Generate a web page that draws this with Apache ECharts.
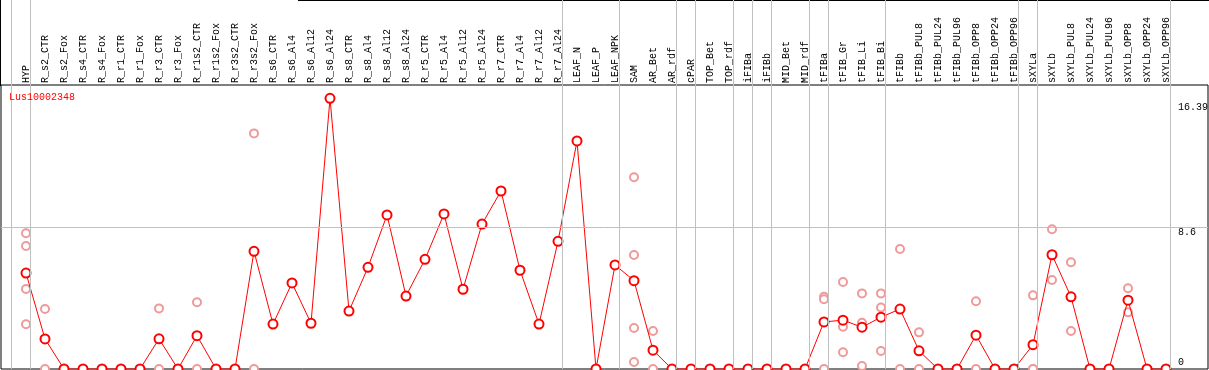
<!DOCTYPE html>
<html>
<head>
<meta charset="utf-8">
<script src="https://cdn.jsdelivr.net/npm/echarts@6/dist/echarts.min.js"></script>
<style>html,body{margin:0;padding:0;background:#fff}#c{width:1209px;height:370px}</style>
</head>
<body>
<div id="c"></div>
<script>
const seriesName = 'Lus10002348';
const categories = ['HYP','R_s2_CTR','R_s2_Fox','R_s4_CTR','R_s4_Fox','R_r1_CTR','R_r1_Fox','R_r3_CTR','R_r3_Fox','R_r1s2_CTR','R_r1s2_Fox','R_r3s2_CTR','R_r3s2_Fox','R_s6_CTR','R_s6_Al4','R_s6_Al12','R_s6_Al24','R_s8_CTR','R_s8_Al4','R_s8_Al12','R_s8_Al24','R_r5_CTR','R_r5_Al4','R_r5_Al12','R_r5_Al24','R_r7_CTR','R_r7_Al4','R_r7_Al12','R_r7_Al24','LEAF_N','LEAF_P','LEAF_NPK','SAM','AR_Bet','AR_rdf','cPAR','TOP_Bet','TOP_rdf','iFIBa','iFIBb','MID_Bet','MID_rdf','tFIBa','tFIB_Gr','tFIB_Li','tFIB_Bi','tFIBb','tFIBb_PUL8','tFIBb_PUL24','tFIBb_PUL96','tFIBb_OPP8','tFIBb_OPP24','tFIBb_OPP96','sXYLa','sXYLb','sXYLb_PUL8','sXYLb_PUL24','sXYLb_PUL96','sXYLb_OPP8','sXYLb_OPP24','sXYLb_OPP96'];
const meanValues = [5.81,1.82,0,0,0,0,0,1.83,0,2.02,0,0,7.13,2.72,5.21,2.77,16.39,3.51,6.16,9.33,4.42,6.64,9.39,4.83,8.78,10.78,5.98,2.72,7.73,13.81,0,6.30,5.35,1.14,0,0,0,0,0,0,0,0,2.85,2.96,2.53,3.14,3.63,1.10,0,0,2.05,0,0,1.47,6.92,4.37,0,0,4.17,0,0];
const replicateCats = ['HYP','R_s2_CTR','R_r3_CTR','R_r1s2_CTR','R_r3s2_Fox','SAM','AR_Bet','tFIBa','tFIB_Gr','tFIB_Li','tFIB_Bi','tFIBb','tFIBb_PUL8','tFIBb_OPP8','sXYLa','sXYLb','sXYLb_PUL8','sXYLb_OPP8'];
const replicateVals = [[8.22,7.45,4.85,2.71],[3.63,0],[3.67,0],[4.04,0],[14.27,0],[11.61,6.90,2.48,0.42],[2.30,0],[4.38,4.22,0],[5.27,2.56,1.01],[4.58,2.80,0.18],[4.58,3.73,1.09],[7.27,0],[2.22,0],[4.10,0],[4.46,0,0],[8.46,5.39],[6.46,2.30],[4.89,3.43]];
const groupEnds = [-1,0,28,31,34,35,37,38,39,41,42,45,52,53,60];
const yTickLabels = [0, 8.6, 16.39];
const yMax = 17.2;

const FONT = 'Liberation Mono, DejaVu Sans Mono, monospace';
const mainData = meanValues.map((v,i)=>[i,v]);
const repData = [];
replicateCats.forEach((c,k)=>{ const i = categories.indexOf(c); replicateVals[k].forEach(v=>repData.push([i,v])); });
const sepLines = groupEnds.map(g=>({xAxis: g + 0.23}));

const chart = echarts.init(document.getElementById('c'), null, {renderer:'canvas'});
chart.setOption({
  animation:false,
  backgroundColor:'#fff',
  title:{text:seriesName,left:9,top:92,padding:0,textStyle:{color:'#ff0000',fontSize:10,fontWeight:'normal',fontFamily:FONT}},
  grid:[
    {left:1,right:1,top:85,bottom:1,show:true,borderColor:'#000',borderWidth:1,backgroundColor:'transparent',containLabel:false,outerBoundsMode:'none'},
    {left:7,right:24,top:85,bottom:1,containLabel:false,outerBoundsMode:'none'},
    {left:7,right:24,top:0,bottom:1,containLabel:false,outerBoundsMode:'none'}
  ],
  xAxis:[
    {gridIndex:0,type:'value',min:0,max:1,show:false},
    {gridIndex:1,type:'value',position:'top',min:-1,max:61,interval:1,
     axisLine:{show:false},axisTick:{show:false},splitLine:{show:false},
     axisLabel:{show:true,rotate:90,margin:2,fontSize:10,fontFamily:FONT,color:'#000',
       formatter:v=>categories[v]||''}},
    {gridIndex:2,type:'value',min:-1,max:61,show:false}
  ],
  yAxis:[
    {gridIndex:0,type:'value',min:0,max:yMax,show:false},
    {gridIndex:1,type:'value',min:0,max:yMax,position:'right',offset:-7,
     axisLine:{show:false},axisTick:{show:false},splitLine:{show:false},
     axisLabel:{show:true,customValues:yTickLabels,margin:0,align:'left',verticalAlign:'middle',fontSize:10,fontFamily:FONT,color:'#000',
       formatter:v=>{ if(v===0) return '{b|0}'; if(v===16.39) return '{t|16.39}'; return '{m|'+v+'}'; },
       rich:{
         t:{fontSize:10,fontFamily:FONT,lineHeight:12,padding:[18,0,0,0],color:'#000'},
         m:{fontSize:10,fontFamily:FONT,lineHeight:12,padding:[10,0,0,0],color:'#000'},
         b:{fontSize:10,fontFamily:FONT,lineHeight:12,padding:[0,0,13,0],color:'#000'}
       }}},
    {gridIndex:2,type:'value',min:0,max:1,show:false}
  ],
  graphic:[
    {type:'line',shape:{x1:0.5,y1:0,x2:0.5,y2:86},style:{stroke:'#000',lineWidth:1},silent:true},
    {type:'line',shape:{x1:298,y1:0.5,x2:1209,y2:0.5},style:{stroke:'#000',lineWidth:1},silent:true}
  ],
  series:[
    {type:'scatter',xAxisIndex:0,yAxisIndex:0,data:[],silent:true,z:1,
     markLine:{silent:true,symbol:'none',label:{show:false},lineStyle:{color:'#c0c0c0',width:1,type:'solid'},data:[{yAxis:8.6}],animation:false}},
    {type:'scatter',xAxisIndex:2,yAxisIndex:2,data:[],silent:true,z:1,
     markLine:{silent:true,symbol:'none',label:{show:false},lineStyle:{color:'#c0c0c0',width:1,type:'solid'},data:sepLines,animation:false}},
    {type:'scatter',name:'replicates',xAxisIndex:1,yAxisIndex:1,data:repData,symbol:'emptyCircle',symbolSize:8,z:2,
     itemStyle:{color:'#ef9a9a',borderColor:'#ef9a9a',borderWidth:1.2,opacity:1}},
    {type:'line',name:seriesName,xAxisIndex:1,yAxisIndex:1,data:mainData,symbol:'emptyCircle',symbolSize:9,z:3,
     lineStyle:{color:'#ff0000',width:1},itemStyle:{color:'#ff0000',borderColor:'#ff0000',borderWidth:1.5}}
  ]
});
</script>
</body>
</html>
